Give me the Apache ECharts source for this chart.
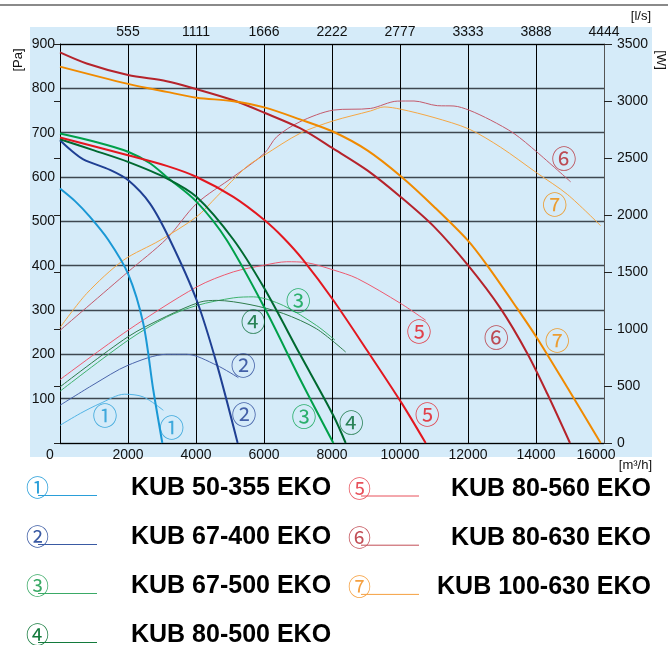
<!DOCTYPE html>
<html><head><meta charset="utf-8">
<script src="https://cdn.jsdelivr.net/npm/echarts@6/dist/echarts.min.js"></script>
<style>html,body{margin:0;padding:0;background:#fff}#c{width:668px;height:645px}</style>
</head><body><div id="c"></div>
<script>
// ---------- data ----------
const models = ['KUB 50-355 EKO','KUB 67-400 EKO','KUB 67-500 EKO','KUB 80-500 EKO','KUB 80-560 EKO','KUB 80-630 EKO','KUB 100-630 EKO'];
const marks = ['①','②','③','④','⑤','⑥','⑦'];
const bottomTicks = [0,2000,4000,6000,8000,10000,12000,14000,16000];
const topTicks = ['','555','1111','1666','2222','2777','3333','3888','4444'];

// pressure [m3/h, Pa]
const pressure1 = [[0,574],[450,545],[882,510],[1422,458],[2000,382],[2451,269],[2745,119],[3010,0]];
const pressure2 = [[0,683],[300,662],[686,640],[1471,616],[2000,593],[2647,540],[3235,458],[4020,322],[4608,179],[5225,0]];
const pressure3 = [[0,698],[1000,680],[2000,657],[2647,631],[3137,600],[4020,544],[4902,458],[6050,300],[7100,138],[8039,0]];
const pressure4 = [[0,685],[1000,660],[2000,634],[3137,597],[4020,555],[5098,459],[6000,350],[7059,200],[8039,62],[8402,0]];
const pressure5 = [[0,689],[2000,649],[3137,625],[4020,600],[5098,555],[6010,503],[6569,463],[7150,413],[8039,322],[9039,208],[10049,90],[10755,0]];
const pressure6 = [[0,881],[784,856],[2000,830],[3137,816],[4020,798],[5098,773],[6010,745],[7059,710],[8039,664],[9039,615],[10020,555],[11000,488],[12010,400],[12961,303],[13745,202],[14333,111],[15000,0]];
const pressure7 = [[0,849],[2000,810],[3137,792],[4020,779],[5098,771],[6010,757],[7059,730],[8039,702],[9039,660],[10049,600],[11000,533],[11980,458],[12569,400],[13451,303],[14020,238],[14922,125],[15902,0]];

// power [m3/h, W]
const power1 = [[0,155],[600,260],[1176,346],[1900,428],[2451,404],[3039,287]];
const power2 = [[0,331],[1000,515],[2000,682],[3137,778],[3725,778],[4608,682],[5245,573]];
const power3 = [[0,454],[2000,901],[3137,1104],[4020,1206],[5098,1273],[5686,1282],[6569,1206],[7549,1030],[8088,902]];
const power4 = [[0,492],[2000,932],[3137,1112],[4118,1236],[4608,1251],[5588,1214],[6569,1136],[7549,1001],[8402,798]];
const power5 = [[0,556],[2000,989],[4020,1369],[5098,1501],[6010,1560],[6667,1590],[7255,1582],[8039,1518],[8745,1443],[10020,1224],[10755,1077]];
const power6 = [[0,988],[2000,1501],[3137,1792],[4020,2101],[5098,2335],[6010,2540],[6373,2686],[7059,2818],[8039,2920],[9137,2935],[9922,2999],[10412,3000],[11098,2959],[11588,2956],[12029,2920],[12667,2832],[13353,2715],[14020,2554],[15020,2291]];
const power7 = [[0,1012],[784,1311],[1863,1603],[2941,1778],[4020,1985],[4608,2160],[5490,2424],[6010,2525],[7059,2716],[8039,2826],[9137,2913],[9529,2948],[10020,2928],[11000,2855],[12029,2754],[12961,2594],[14020,2370],[14922,2181],[15902,1906]];

// curve tags [m3/h, Pa-scale]
const tags1 = [[1323,62],[3285,36]];
const tags2 = [[5392,175],[5412,65]];
const tags3 = [[7010,322],[7176,60]];
const tags4 = [[5686,273],[8568,47]];
const tags5 = [[10558,251],[10803,65]];
const tags6 = [[14823,642],[12833,239]];
const tags7 = [[14549,537],[14627,232]];

// ---------- style ----------
const pressures = [pressure1,pressure2,pressure3,pressure4,pressure5,pressure6,pressure7];
const powers = [power1,power2,power3,power4,power5,power6,power7];
const tags = [tags1,tags2,tags3,tags4,tags5,tags6,tags7];
const mainColors = ['#1a98d5','#1f3f93','#00a04a','#006930','#e3171f','#b5232b','#f08a00'];
const thinColors = ['#52b4e6','#4a64ab','#3fb36e','#2f7d4c','#ee5a70','#c45a6c','#f5a744'];
const legendColors = ['#2a9fd9','#3a5aa3','#3aaa66','#137a3c','#e8505a','#c24e56','#f5a040'];
const FONT = '"Liberation Sans", Arial, sans-serif';
const CIRC = '"Noto Sans CJK JP", "DejaVu Sans", sans-serif';

const series = [];
pressures.forEach((d,i)=>{
  series.push({type:'line', name:models[i], data:d, xAxisIndex:0, yAxisIndex:0, smooth:0.3,
    showSymbol:false, symbol:'none', lineStyle:{color:mainColors[i], width:2}, z:4, silent:true});
});
powers.forEach((d,i)=>{
  series.push({type:'line', name:models[i]+' W', data:d, xAxisIndex:0, yAxisIndex:1, smooth:0.3,
    showSymbol:false, symbol:'none', lineStyle:{color:thinColors[i], width:1}, z:3, silent:true});
});
tags.forEach((d,i)=>{
  series.push({type:'scatter', data:d, xAxisIndex:0, yAxisIndex:0, symbolSize:0, z:5, silent:true,
    label:{show:true, position:'inside', formatter:()=>marks[i], color:mainColors[i], fontSize:25, fontFamily:CIRC}});
});

const graphics = [
  {type:'rect', shape:{x:30,y:27,width:622,height:430}, style:{fill:'#d5ebf9'}, z:-100, silent:true},
  {type:'line', shape:{x1:0,y1:5,x2:668,y2:5}, style:{stroke:'#8a8a8a', lineWidth:2}, z:-50, silent:true},
  {type:'text', x:18, y:60, rotation:Math.PI/2, style:{text:'[Pa]', fontSize:13, fontFamily:FONT, fill:'#111', align:'center', verticalAlign:'middle'}},
  {type:'text', x:661, y:60, rotation:-Math.PI/2, style:{text:'[W]', fontSize:13, fontFamily:FONT, fill:'#111', align:'center', verticalAlign:'middle'}},
  {type:'text', x:651, y:16, style:{text:'[l/s]', fontSize:13, fontFamily:FONT, fill:'#111', align:'right', verticalAlign:'middle'}},
  {type:'text', x:652, y:465, style:{text:'[m³/h]', fontSize:13, fontFamily:FONT, fill:'#111', align:'right', verticalAlign:'middle'}}
];
models.forEach((name,i)=>{
  const left = i < 4;
  const k = left ? i : i-4;
  const rowY = left ? 487.5 + k*49 : 488 + k*49.2;
  const cx = left ? 37.5 : 359.5;
  const lx1 = left ? 38 : 361, lx2 = left ? 97 : 419;
  graphics.push({type:'text', x:cx, y:rowY, style:{text:marks[i], fontSize:23, fontFamily:CIRC, fill:legendColors[i], align:'center', verticalAlign:'middle'}});
  graphics.push({type:'line', shape:{x1:lx1,y1:rowY+8,x2:lx2,y2:rowY+8}, style:{stroke:legendColors[i], lineWidth:1}});
  graphics.push({type:'text', x:left?131:651, y:rowY+1, style:{text:name, fontSize:25, fontWeight:'bold', fontFamily:FONT, fill:'#000', align:left?'left':'right', verticalAlign:'middle'}});
});

const labelBase = {fontSize:14, fontFamily:FONT, color:'#111'};
const option = {
  animation:false,
  backgroundColor:'#ffffff',
  grid:{left:60, right:64, top:44, bottom:202, containLabel:false},
  xAxis:[
    {type:'value', position:'bottom', min:0, max:16000, interval:2000,
     axisLine:{show:true, onZero:false, lineStyle:{color:'#000', width:1}},
     axisTick:{show:false},
     splitLine:{show:true, lineStyle:{color:'#000', width:1}},
     axisLabel:Object.assign({margin:5, formatter:(v)=>{
        const t = bottomTicks[Math.round(v/2000)];
        if (t===0) return '{l|0}';
        if (t===16000) return '{r|16000}';
        return String(t);
      }, rich:{l:Object.assign({padding:[0,20,0,0]},labelBase), r:Object.assign({padding:[0,16,0,0]},labelBase)}}, labelBase)},
    {type:'value', position:'top', min:0, max:16000, interval:2000,
     axisLine:{show:true, onZero:false, lineStyle:{color:'#000', width:1}},
     axisTick:{show:false}, splitLine:{show:false},
     axisLabel:Object.assign({margin:5, formatter:(v)=>topTicks[Math.round(v/2000)]}, labelBase)}
  ],
  yAxis:[
    {type:'value', position:'left', min:0, max:900, interval:100,
     axisLine:{show:true, onZero:false, lineStyle:{color:'#000', width:1}},
     axisTick:{show:false},
     splitLine:{show:true, lineStyle:{color:'#3e4750', width:1.3}},
     axisLabel:Object.assign({margin:5, formatter:(v)=> v===0 ? '' : String(v)}, labelBase)},
    {type:'value', position:'right', min:0, max:3500, interval:500,
     axisLine:{show:true, onZero:false, lineStyle:{color:'#555', width:1}},
     axisTick:{show:true, inside:false, length:8, lineStyle:{color:'#222', width:1}},
     splitLine:{show:false},
     axisLabel:Object.assign({margin:13, formatter:(v)=>String(v)}, labelBase)},
    {type:'value', position:'right', min:0, max:3500, interval:500,
     axisLine:{show:false}, axisLabel:{show:false}, splitLine:{show:false},
     axisTick:{show:true, inside:true, length:6, lineStyle:{color:'#222', width:1}}}
  ],
  graphic:graphics,
  series:series
};
const chart = echarts.init(document.getElementById('c'));
chart.setOption(option);
</script></body></html>
